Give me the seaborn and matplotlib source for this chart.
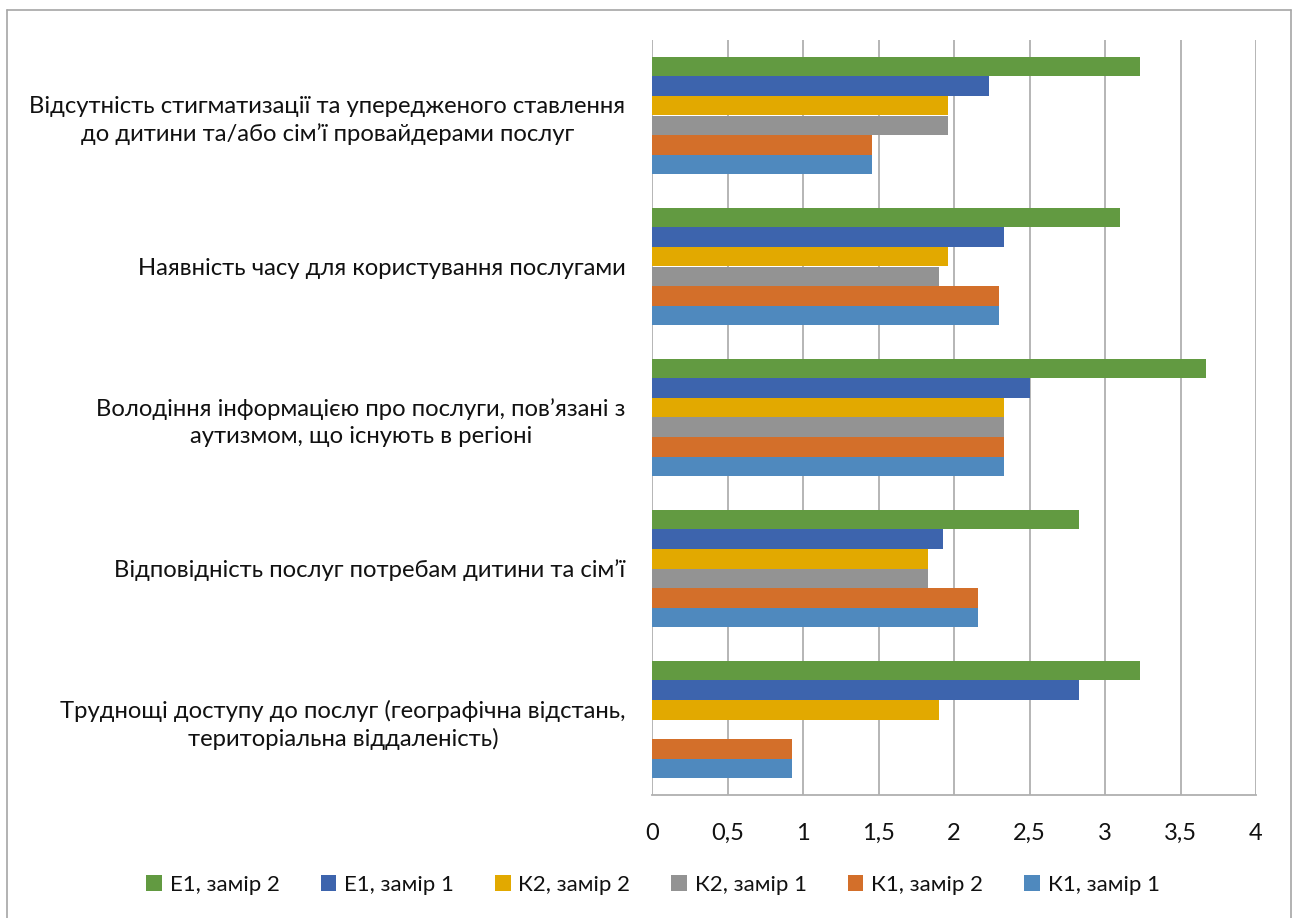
import numpy as np
import pandas as pd
import matplotlib
matplotlib.use("Agg")
import matplotlib.pyplot as plt
from matplotlib.lines import Line2D
from matplotlib.patches import Patch
import seaborn as sns

# Categories, top to bottom
categories = [
    "Відсутність стигматизації та упередженого ставлення\nдо дитини та/або сім’ї провайдерами послуг",
    "Наявність часу для користування послугами",
    "Володіння інформацією про послуги, пов’язані з\nаутизмом, що існують в регіоні",
    "Відповідність послуг потребам дитини та сім’ї",
    "Труднощі доступу до послуг (географічна відстань,\nтериторіальна віддаленість)",
]

series = ["Е1, замір 2", "Е1, замір 1", "К2, замір 2", "К2, замір 1", "К1, замір 2", "К1, замір 1"]

e1_m2 = [3.23, 3.10, 3.67, 2.83, 3.23]
e1_m1 = [2.23, 2.33, 2.50, 1.93, 2.83]
k2_m2 = [1.96, 1.96, 2.33, 1.83, 1.90]
k2_m1 = [1.96, 1.90, 2.33, 1.83, np.nan]
k1_m2 = [1.46, 2.30, 2.33, 2.16, 0.93]
k1_m1 = [1.46, 2.30, 2.33, 2.16, 0.93]

colors = ["#629A41", "#3D64AD", "#E2A900", "#939393", "#D36F2A", "#4F89BE"]

x_ticks = [0, 0.5, 1, 1.5, 2, 2.5, 3, 3.5, 4]

values = [e1_m2, e1_m1, k2_m2, k2_m1, k1_m2, k1_m1]
rows = []
for s, vals in zip(series, values):
    for c, v in zip(categories, vals):
        if not np.isnan(v):
            rows.append({"category": c, "series": s, "value": v})
df = pd.DataFrame(rows)

sns.set_theme(style="white")
plt.rcParams["font.family"] = ["Lato", "DejaVu Sans"]
text_color = "#111111"
grid_color = "#b0b0b0"

fig = plt.figure(figsize=(12.93, 9.18), dpi=100)
ax = fig.add_axes([652 / 1293, 1 - 795 / 918, (1256 - 652) / 1293, (795 - 40) / 918])

sns.barplot(
    data=df, x="value", y="category", hue="series",
    order=categories, hue_order=series, palette=colors,
    orient="h", width=0.775, saturation=1, linewidth=0, ax=ax,
)

ax.set_xlim(0, 4)
ax.set_xticks(x_ticks)
ax.set_xticklabels([f"{t:g}".replace(".", ",") for t in x_ticks])
ax.set_xlabel("")
ax.set_ylabel("")
ax.grid(False)
for t in x_ticks:
    ax.axvline(t, color=grid_color, lw=1.3, zorder=0)
ax.set_axisbelow(True)

for side in ["top", "right", "left"]:
    ax.spines[side].set_visible(False)
ax.spines["bottom"].set_color(grid_color)
ax.spines["bottom"].set_linewidth(1.3)

ax.tick_params(axis="x", length=0, pad=20, labelsize=17, labelcolor=text_color)
ax.tick_params(axis="y", length=0, pad=19, labelsize=17.2, labelcolor=text_color)
for lbl in ax.get_yticklabels():
    lbl.set_multialignment("center")
    lbl.set_linespacing(1.33)

ax.get_legend().remove()
handles = [Patch(facecolor=c, edgecolor="none") for c in colors]
fig.legend(
    handles, series, loc="center", bbox_to_anchor=(0.505, 1 - 885 / 918),
    ncol=6, frameon=False, fontsize=16, handlelength=0.7, handleheight=0.7,
    handletextpad=0.35, columnspacing=1.85, labelcolor=text_color,
)

# outer chart frame
fc = "#a6a6a6"
fig.add_artist(Line2D([7 / 1293, 7 / 1293], [0, 1 - 10 / 918], color=fc, lw=1.2, transform=fig.transFigure))
fig.add_artist(Line2D([7 / 1293, 1291 / 1293], [1 - 10 / 918, 1 - 10 / 918], color=fc, lw=1.2, transform=fig.transFigure))
fig.add_artist(Line2D([1291 / 1293, 1291 / 1293], [0, 1 - 10 / 918], color=fc, lw=1.2, transform=fig.transFigure))

fig.savefig("out.png", dpi=100, facecolor="white")
